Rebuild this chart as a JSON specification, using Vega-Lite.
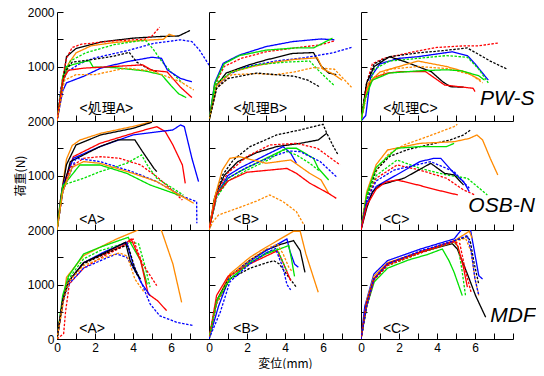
{
"$schema":"https://vega.github.io/schema/vega-lite/v6.json",
"padding":{"left":14,"top":6,"right":0,"bottom":0},
"background":"white",
"columns":3,"spacing":0,"bounds":"flush",
"datasets":{
"curves":[
{"p":1,"s":"1a","c":"k","d":"s","x":[0,0.3,0.5,1.0,2.3,4,5.4,6.4,7],"y":[0,700,1180,1330,1450,1520,1550,1560,1660]},
{"p":1,"s":"1b","c":"r","d":"d","x":[0,0.3,0.5,0.8,1.3,3,4.6,5.0,5.4],"y":[0,800,1150,1350,1410,1470,1500,1560,1720]},
{"p":1,"s":"1c","c":"o","d":"s","x":[0,0.3,0.6,1.0,1.8,3,4.5,5.6,5.9,6.2],"y":[0,700,1050,1250,1380,1440,1480,1500,1590,1560]},
{"p":1,"s":"1d","c":"b","d":"d","x":[0,0.2,0.5,1.2,1.9,3.8,5.1,6.5,7.1,7.5,8.05],"y":[0,600,900,1050,1150,1300,1425,1490,1456,1300,1000]},
{"p":1,"s":"1e","c":"g","d":"d","x":[0,0.3,0.7,1.5,3,4.3,4.7,5.1,5.5,6.0,6.6],"y":[0,700,1100,1250,1400,1470,1470,1300,1100,900,700]},
{"p":1,"s":"1f","c":"g","d":"s","x":[0,0.3,0.5,1.0,1.7,1.9,3,4.6,5.5,6.0,6.4,6.8],"y":[0,800,1000,1050,1110,990,980,920,850,650,500,430]},
{"p":1,"s":"1g","c":"b","d":"s","x":[0,0.3,0.5,1.4,2.3,3.7,5.0,5.5,5.8,6.5,7.1],"y":[0,550,700,820,970,1090,1170,1150,940,780,720]},
{"p":1,"s":"1h","c":"k","d":"d","x":[0,0.4,0.8,1.7,3.0,3.8,4.2,4.8,5.3],"y":[0,900,1080,1120,1190,1260,1080,960,900]},
{"p":1,"s":"1i","c":"r","d":"s","x":[0,0.3,0.6,1.4,3,4.5,5.0,5.8,6.5,7.1],"y":[0,750,930,970,1000,1030,930,900,620,430]},
{"p":1,"s":"1j","c":"o","d":"d","x":[0,0.4,1.0,2.0,3.6,5.0,5.9,6.5,7.2],"y":[0,750,850,850,970,920,800,720,570]},
{"p":2,"s":"2a","c":"b","d":"s","x":[0,0.3,0.75,1.6,3.0,4.4,5.9,6.6],"y":[0,700,1060,1210,1365,1457,1505,1490]},
{"p":2,"s":"2b","c":"r","d":"d","x":[0,0.3,0.8,1.7,3,4.5,5.9,6.6],"y":[0,650,1000,1150,1270,1340,1400,1470]},
{"p":2,"s":"2c","c":"g","d":"s","x":[0,0.3,0.8,1.6,3,4.5,5.5,6.5],"y":[0,680,1050,1200,1300,1340,1340,1520]},
{"p":2,"s":"2d","c":"k","d":"s","x":[0,0.4,0.9,2.1,3.0,4.4,5.5,5.9,6.3,6.7],"y":[0,650,880,1030,1120,1240,1255,1010,880,850]},
{"p":2,"s":"2e","c":"b","d":"d","x":[0,0.4,1,2,3.5,5,6.5,7.5],"y":[0,600,850,1000,1100,1160,1250,1350]},
{"p":2,"s":"2f","c":"o","d":"s","x":[0,0.4,1.2,2.3,3.5,4.5,5.7,6.0,6.5,7.0],"y":[0,650,900,1000,1080,1130,1160,950,870,750]},
{"p":2,"s":"2g","c":"g","d":"d","x":[0,0.4,1.2,2.5,4,5.3,5.7,6.2,6.6],"y":[0,700,900,1030,1080,1100,950,780,650]},
{"p":2,"s":"2h","c":"o","d":"d","x":[0,0.4,1.2,2.5,3.5,4.5,5.5,6.6,7.5],"y":[0,600,850,870,850,900,980,950,620]},
{"p":2,"s":"2i","c":"k","d":"d","x":[0,0.4,1,2.5,3.5,4.5,5.2,5.8],"y":[0,600,780,880,850,820,750,630]},
{"p":3,"s":"3a","c":"r","d":"d","x":[0,0.3,0.6,1.2,2.5,4,5.5,6.2,7.2],"y":[0,700,1050,1150,1250,1350,1380,1380,1430]},
{"p":3,"s":"3b","c":"k","d":"d","x":[0,0.3,0.7,1.5,3,4.3,5.6,6.3,6.8,7.7],"y":[0,700,1050,1180,1250,1290,1340,1200,1100,950]},
{"p":3,"s":"3c","c":"b","d":"s","x":[0,0.25,0.5,1,2,3,4.8,5.6,6,6.7],"y":[0,100,800,1050,1150,1180,1270,1200,1050,750]},
{"p":3,"s":"3d","c":"g","d":"d","x":[0,0.3,0.7,1.5,3,4.5,5.6,6.2,6.7],"y":[0,500,950,1100,1150,1200,1170,950,700]},
{"p":3,"s":"3e","c":"k","d":"s","x":[0,0.3,0.7,1.5,2.3,3.7,4.3,4.7,5.4],"y":[0,700,1000,1180,1090,905,720,630,620]},
{"p":3,"s":"3f","c":"r","d":"s","x":[0,0.3,0.7,1.4,2.1,3.4,4.4,5.9,6.0],"y":[0,600,800,880,905,905,660,600,540]},
{"p":3,"s":"3g","c":"o","d":"s","x":[0,0.4,1,2,3,4.5,5.5,6.3],"y":[0,700,900,1000,1100,1000,900,750]},
{"p":3,"s":"3h","c":"o","d":"d","x":[0,0.4,1.5,3,4.6,5.8,6.4],"y":[0,700,950,1000,960,850,700]},
{"p":3,"s":"3i","c":"g","d":"s","x":[0,0.2,0.6,1.5,3,4.5,5.3,6.2,6.5],"y":[0,400,750,880,920,940,920,830,750]},
{"p":4,"s":"4a","c":"o","d":"s","x":[0,0.2,0.5,0.8,1.2,2.3,4.0,5.0],"y":[0,600,1300,1550,1650,1775,1900,1990]},
{"p":4,"s":"4b","c":"k","d":"s","x":[0,0.2,0.5,1.0,2.3,4.0,5.0],"y":[0,600,1200,1560,1745,1866,1977]},
{"p":4,"s":"4c","c":"r","d":"s","x":[0,0.3,0.86,2.26,4.0,5.25,5.7,6.1,6.6,6.75],"y":[0,800,1346,1590,1775,1897,1805,1560,1193,857]},
{"p":4,"s":"4d","c":"b","d":"s","x":[0,0.3,0.86,2.26,4.0,6.1,6.5,6.7,7.1,7.45],"y":[0,800,1316,1530,1744,1836,1928,1897,1316,887]},
{"p":4,"s":"4e","c":"k","d":"s","x":[0,0.3,0.7,2.26,3.2,4.1,4.5,5.1,5.25],"y":[0,700,1255,1530,1652,1652,1438,1132,1071]},
{"p":4,"s":"4f","c":"r","d":"d","x":[0,0.3,0.7,1.4,2.3,3.3,4.4,5.25,6.0,6.6],"y":[0,700,1150,1316,1346,1316,1193,980,750,550]},
{"p":4,"s":"4g","c":"b","d":"d","x":[0,0.3,1.0,2.26,3.7,4.4,5.25,6.65,7.35,7.36],"y":[0,700,1316,1255,1100,1010,887,612,520,122]},
{"p":4,"s":"4h","c":"g","d":"d","x":[0,0.33,1.4,2.26,3.67,4.45,4.8,5.25,6.65],"y":[0,826,950,1071,1224,1377,1163,950,643]},
{"p":4,"s":"4i","c":"g","d":"s","x":[0,0.3,1.2,2.26,3.67,4.9,6.65],"y":[0,800,1193,1193,1040,826,612]},
{"p":4,"s":"4j","c":"o","d":"s","x":[0,0.3,0.8,1.4,2.26,4.0,5.25,7.2],"y":[0,700,1150,1255,1224,1040,887,490]},
{"p":5,"s":"5a","c":"k","d":"d","x":[0,0.3,0.7,1.28,2.16,3.56,4.8,6.0,6.2,6.55,6.8],"y":[0,600,1000,1285,1530,1744,1836,1940,1775,1530,1377]},
{"p":5,"s":"5b","c":"k","d":"s","x":[0,0.3,0.8,1.5,2.5,3.56,4.8,5.75,6.2],"y":[0,600,1000,1250,1420,1530,1590,1652,1775]},
{"p":5,"s":"5c","c":"r","d":"d","x":[0,0.4,1,2,3.2,4.6,5.7,6.9],"y":[0,700,1050,1350,1560,1590,1500,1193]},
{"p":5,"s":"5d","c":"b","d":"s","x":[0,0.4,1,1.6,3.0,3.9,4.3,4.6],"y":[0,650,1000,1132,1377,1530,1408,1224]},
{"p":5,"s":"5e","c":"g","d":"s","x":[0,0.4,1,1.6,3.0,4.1,4.6,5.5,5.75,6.3],"y":[0,650,950,1071,1316,1500,1500,1316,1132,918]},
{"p":5,"s":"5f","c":"b","d":"d","x":[0,0.4,1,2,3.2,4.2,4.8,5.85,6.7],"y":[0,600,950,1150,1330,1450,1438,1255,979]},
{"p":5,"s":"5g","c":"g","d":"d","x":[0,0.4,1,2,3.2,3.9,4.6,5.3,5.85],"y":[0,600,900,1100,1300,1470,1377,1224,1071]},
{"p":5,"s":"5h","c":"o","d":"s","x":[0,0.3,0.7,1.1,1.6,3.0,4.3,5.3,5.9,6.3],"y":[0,600,1100,1315,1346,1224,1285,1040,918,673]},
{"p":5,"s":"5i","c":"r","d":"s","x":[0,0.4,1,2,3.2,4.1,4.6,5.3,6.3,6.7],"y":[0,650,900,1060,1100,1130,1040,860,670,580]},
{"p":5,"s":"5j","c":"o","d":"d","x":[0,0.2,0.5,1.5,2.5,3.2,3.9,4.6,5.0],"y":[0,150,275,400,530,643,520,337,92]},
{"p":6,"s":"6a","c":"o","d":"d","x":[0,0.2,0.68,1.4,2.26,3.5,4.9,5.07],"y":[0,500,1010,1377,1560,1714,1897,1940]},
{"p":6,"s":"6b","c":"k","d":"d","x":[0,0.3,0.8,1.5,2.5,3.5,4.7,5.4,5.77],"y":[0,600,1100,1350,1480,1560,1652,1744,1836]},
{"p":6,"s":"6c","c":"o","d":"s","x":[0,0.3,0.8,1.4,3.1,4.9,5.7,6.1,6.4,6.8,7.2],"y":[0,700,1200,1469,1590,1620,1680,1744,1652,1316,1010]},
{"p":6,"s":"6d","c":"g","d":"s","x":[0,0.3,0.8,1.9,3.1,4.5,4.9],"y":[0,650,1150,1500,1530,1530,1590]},
{"p":6,"s":"6e","c":"b","d":"s","x":[0,0.3,0.8,1.4,3.1,3.85,4.2,4.9,5.4,5.7],"y":[0,500,800,918,1255,1316,1316,1040,887,704]},
{"p":6,"s":"6f","c":"g","d":"d","x":[0,0.3,0.8,1.9,3.1,4.5,5.6,6.65],"y":[0,600,1000,1285,1132,1010,950,643]},
{"p":6,"s":"6g","c":"r","d":"d","x":[0,0.3,0.8,1.9,3.1,4.5,5.4,6.0],"y":[0,550,950,1193,1100,950,735,643]},
{"p":6,"s":"6h","c":"k","d":"s","x":[0,0.3,0.6,1.0,2.26,3.67,4.4,4.9,5.4],"y":[0,400,700,826,950,1224,1040,1010,826]},
{"p":6,"s":"6i","c":"b","d":"d","x":[0,0.3,0.8,1.74,3.67,4.9,5.7],"y":[0,550,900,1100,1255,1071,765]},
{"p":6,"s":"6j","c":"r","d":"s","x":[0,0.3,0.8,1.3,1.9,3.0,4.0,5.1],"y":[0,450,750,880,918,826,734,643]},
{"p":7,"s":"7a","c":"o","d":"s","x":[0,0.3,0.5,1.4,2.26,3.14,4.2,4.9,5.5,6.1,6.56],"y":[0,600,1132,1530,1683,1836,1990,2150,1990,1377,673]},
{"p":7,"s":"7b","c":"g","d":"s","x":[0,0.3,0.6,1.4,2.26,3.75,3.9,4.4,4.75],"y":[0,800,1150,1560,1683,1866,1744,1438,1000]},
{"p":7,"s":"7c","c":"g","d":"d","x":[0,0.3,0.6,1.4,2.26,3.3,4.0,4.3,4.6,4.9],"y":[0,750,1100,1470,1620,1730,1775,1744,1377,950]},
{"p":7,"s":"7d","c":"r","d":"s","x":[0,0.3,0.6,1.4,2.5,3.5,3.9,4.4,4.8,5.3,5.77],"y":[0,700,1050,1400,1560,1720,1836,1438,826,700,520]},
{"p":7,"s":"7e","c":"r","d":"d","x":[0,0.35,0.45,0.65,1.4,2.5,3.5,4.0,4.5,5.25],"y":[0,100,500,1010,1300,1530,1700,1836,1377,980]},
{"p":7,"s":"7f","c":"b","d":"s","x":[0,0.3,0.6,1.4,2.5,3.3,3.67,4.0,4.4,4.9],"y":[0,700,1050,1400,1600,1720,1775,1377,1050,795]},
{"p":7,"s":"7g","c":"b","d":"d","x":[0,0.3,0.6,1.4,2.5,3.14,3.67,4.4,4.9,5.4,6.3,7.2],"y":[0,650,1000,1300,1470,1560,1500,1071,643,428,306,245]},
{"p":7,"s":"7h","c":"k","d":"s","x":[0,0.3,0.6,1.4,2.5,3.3,3.6,3.85,4.2,4.4],"y":[0,700,1050,1400,1580,1720,1775,1438,1193,1100]},
{"p":7,"s":"7i","c":"k","d":"d","x":[0,0.3,0.6,1.4,2.5,3.5,3.75,4.1,4.3],"y":[0,700,1050,1380,1560,1700,1700,1300,1150]},
{"p":7,"s":"7j","c":"o","d":"d","x":[0,0.3,0.6,1.4,2.5,3.3,3.7,4.1,4.6],"y":[0,650,1050,1350,1500,1580,1520,1100,850]},
{"p":8,"s":"8a","c":"o","d":"s","x":[0,0.4,1.1,2.16,3.0,4.45,4.8,5.1,5.75],"y":[0,700,1193,1500,1683,1977,1977,1560,857]},
{"p":8,"s":"8b","c":"k","d":"s","x":[0,0.4,1.1,2.16,3.0,3.8,4.45,4.8,5.05],"y":[0,700,1150,1450,1630,1740,1805,1622,1224]},
{"p":8,"s":"8c","c":"b","d":"s","x":[0,0.5,1.1,2.16,3.0,4.1,4.25,4.5,4.7],"y":[0,600,1150,1430,1620,1836,1622,1377,1316]},
{"p":8,"s":"8d","c":"g","d":"s","x":[0,0.4,1.1,2.16,3.0,3.7,4.2,4.35,4.5],"y":[0,700,1100,1400,1560,1650,1714,1450,1150]},
{"p":8,"s":"8e","c":"k","d":"d","x":[0,0.4,1.1,2.16,3.4,3.7,4.2,4.6],"y":[0,650,1100,1300,1438,1377,1132,949]},
{"p":8,"s":"8f","c":"r","d":"s","x":[0,0.4,1.0,2.16,3.0,3.6,3.9,4.3],"y":[0,800,1150,1380,1520,1620,1400,1071]},
{"p":8,"s":"8g","c":"o","d":"d","x":[0,0.4,1.1,2.16,3.0,3.6,3.9,4.2,4.35],"y":[0,650,1150,1450,1650,1740,1560,1316,1250]},
{"p":8,"s":"8h","c":"g","d":"d","x":[0,0.4,1.1,2.16,3.0,3.6,3.9,4.1],"y":[0,700,1100,1400,1580,1650,1400,1250]},
{"p":8,"s":"8i","c":"b","d":"d","x":[0,0.6,1.1,2.16,3.0,3.5,3.9,4.1,4.3],"y":[0,500,1050,1380,1580,1660,1300,1000,900]},
{"p":9,"s":"9a","c":"b","d":"s","x":[0,0.2,0.68,1.4,3.14,4.9,5.25,5.5,5.77,6.2,6.4],"y":[0,600,1193,1438,1652,1836,1990,2150,1990,1163,1100]},
{"p":9,"s":"9b","c":"o","d":"s","x":[0,0.3,0.68,1.4,3.14,4.9,5.7,5.85],"y":[0,700,1150,1400,1600,1800,1977,1850]},
{"p":9,"s":"9c","c":"o","d":"d","x":[0,0.3,0.68,1.4,3.14,4.9,5.5,5.8,6.0,6.2],"y":[0,650,1100,1350,1580,1780,1850,1600,1100,800]},
{"p":9,"s":"9d","c":"k","d":"s","x":[0,0.3,0.68,1.4,3.14,4.8,5.07,5.6,6.03,6.56],"y":[0,650,1100,1380,1600,1750,1652,1193,796,400]},
{"p":9,"s":"9e","c":"k","d":"d","x":[0,0.3,0.68,1.4,3.14,4.9,5.6,5.75,5.95,6.2],"y":[0,650,1100,1380,1600,1800,1880,1800,1400,1000]},
{"p":9,"s":"9f","c":"g","d":"s","x":[0,0.3,0.7,1.4,2.5,3.5,4.28,4.63,4.9,5.33],"y":[0,600,1050,1300,1450,1550,1652,1438,1224,796]},
{"p":9,"s":"9g","c":"g","d":"d","x":[0,0.3,0.68,1.4,3.14,4.9,5.1,5.3,5.5],"y":[0,600,1100,1350,1580,1780,1700,1300,800]},
{"p":9,"s":"9h","c":"r","d":"s","x":[0,0.3,0.68,1.4,3.14,4.9,5.1,5.4,5.6],"y":[0,650,1100,1380,1600,1800,1700,1300,950]},
{"p":9,"s":"9i","c":"r","d":"d","x":[0,0.3,0.68,1.4,3.14,4.9,5.2,5.5,5.8],"y":[0,600,1080,1350,1580,1780,1750,1250,850]},
{"p":9,"s":"9j","c":"b","d":"d","x":[0,0.3,0.68,1.4,3.14,4.9,5.6,5.8,6.0,6.2],"y":[0,600,1100,1380,1620,1800,1900,1600,1100,800]}
],
"tags":[
{"p":1,"t":"<処理A>","x":2.6,"y":220},{"p":2,"t":"<処理B>","x":2.7,"y":220},{"p":3,"t":"<処理C>","x":2.6,"y":220},
{"p":4,"t":"<A>","x":1.85,"y":185},{"p":5,"t":"<B>","x":1.95,"y":185},{"p":6,"t":"<C>","x":1.85,"y":185},
{"p":7,"t":"<A>","x":1.85,"y":185},{"p":8,"t":"<B>","x":1.95,"y":185},{"p":9,"t":"<C>","x":1.85,"y":185}
],
"names":[
{"p":3,"t":"PW-S","x":7.7,"y":400},{"p":6,"t":"OSB-N","x":7.4,"y":440},{"p":9,"t":"MDF","x":8.0,"y":420}
]
},
"concat":[
{"width":152,"height":109,
 "encoding":{"x":{"field":"x","type":"quantitative","scale":{"domain":[0,8],"nice":false},"axis":{"values":[0,1,2,3,4,5,6,7,8],"labels":false,"title":null}},
   "y":{"field":"y","type":"quantitative","scale":{"domain":[0,2000],"nice":false},"axis":{"values":[0,500,1000,1500,2000],"format":"d","labelExpr":"datum.value == 1000 || datum.value == 2000 ? datum.label : ''","title":null}}},
 "layer":[
 {"data":{"name":"curves"},"transform":[{"filter":"datum.p==1"},{"flatten":["x","y"]}],"mark":{"type":"line","clip":true,"strokeWidth":1.3},
  "encoding":{"color":{"field":"c","type":"nominal","scale":{"domain":["k","r","b","g","o"],"range":["#000000","#ff0000","#0000ff","#00e000","#ff8a00"]},"legend":null},
   "strokeDash":{"field":"d","type":"nominal","scale":{"domain":["s","d"],"range":[[1,0],[2.5,1.5]]},"legend":null},
   "detail":{"field":"s"},"order":{"value":null}}},
 {"data":{"name":"tags"},"transform":[{"filter":"datum.p==1"}],"mark":{"type":"text","font":"Liberation Sans, Noto Sans CJK JP","fontSize":14,"align":"center","baseline":"middle"},
  "encoding":{"text":{"field":"t"}}}
]},
{"width":152,"height":109,
 "encoding":{"x":{"field":"x","type":"quantitative","scale":{"domain":[0,8],"nice":false},"axis":{"values":[0,1,2,3,4,5,6,7,8],"labels":false,"title":null}},
   "y":{"field":"y","type":"quantitative","scale":{"domain":[0,2000],"nice":false},"axis":{"values":[0,500,1000,1500,2000],"labels":false,"title":null}}},
 "layer":[
 {"data":{"name":"curves"},"transform":[{"filter":"datum.p==2"},{"flatten":["x","y"]}],"mark":{"type":"line","clip":true,"strokeWidth":1.3},
  "encoding":{"color":{"field":"c","type":"nominal","scale":{"domain":["k","r","b","g","o"],"range":["#000000","#ff0000","#0000ff","#00e000","#ff8a00"]},"legend":null},
   "strokeDash":{"field":"d","type":"nominal","scale":{"domain":["s","d"],"range":[[1,0],[2.5,1.5]]},"legend":null},
   "detail":{"field":"s"},"order":{"value":null}}},
 {"data":{"name":"tags"},"transform":[{"filter":"datum.p==2"}],"mark":{"type":"text","font":"Liberation Sans, Noto Sans CJK JP","fontSize":14,"align":"center","baseline":"middle"},
  "encoding":{"text":{"field":"t"}}}
]},
{"width":152,"height":109,
 "encoding":{"x":{"field":"x","type":"quantitative","scale":{"domain":[0,8],"nice":false},"axis":{"values":[0,1,2,3,4,5,6,7,8],"labels":false,"title":null}},
   "y":{"field":"y","type":"quantitative","scale":{"domain":[0,2000],"nice":false},"axis":{"values":[0,500,1000,1500,2000],"labels":false,"title":null}}},
 "layer":[
 {"data":{"name":"curves"},"transform":[{"filter":"datum.p==3"},{"flatten":["x","y"]}],"mark":{"type":"line","clip":true,"strokeWidth":1.3},
  "encoding":{"color":{"field":"c","type":"nominal","scale":{"domain":["k","r","b","g","o"],"range":["#000000","#ff0000","#0000ff","#00e000","#ff8a00"]},"legend":null},
   "strokeDash":{"field":"d","type":"nominal","scale":{"domain":["s","d"],"range":[[1,0],[2.5,1.5]]},"legend":null},
   "detail":{"field":"s"},"order":{"value":null}}},
 {"data":{"name":"tags"},"transform":[{"filter":"datum.p==3"}],"mark":{"type":"text","font":"Liberation Sans, Noto Sans CJK JP","fontSize":14,"align":"center","baseline":"middle"},
  "encoding":{"text":{"field":"t"}}},
 {"data":{"name":"names"},"transform":[{"filter":"datum.p==3"}],"mark":{"type":"text","font":"Liberation Sans","fontSize":21,"fontStyle":"italic","align":"center","baseline":"middle"},
  "encoding":{"text":{"field":"t"}}}
]},
{"width":152,"height":109,
 "encoding":{"x":{"field":"x","type":"quantitative","scale":{"domain":[0,8],"nice":false},"axis":{"values":[0,1,2,3,4,5,6,7,8],"labels":false,"title":null}},
   "y":{"field":"y","type":"quantitative","scale":{"domain":[0,2000],"nice":false},"axis":{"values":[0,500,1000,1500,2000],"format":"d","labelExpr":"datum.value == 1000 || datum.value == 2000 ? datum.label : ''","title":"荷重(N)","titlePadding":0}}},
 "layer":[
 {"data":{"name":"curves"},"transform":[{"filter":"datum.p==4"},{"flatten":["x","y"]}],"mark":{"type":"line","clip":true,"strokeWidth":1.3},
  "encoding":{"color":{"field":"c","type":"nominal","scale":{"domain":["k","r","b","g","o"],"range":["#000000","#ff0000","#0000ff","#00e000","#ff8a00"]},"legend":null},
   "strokeDash":{"field":"d","type":"nominal","scale":{"domain":["s","d"],"range":[[1,0],[2.5,1.5]]},"legend":null},
   "detail":{"field":"s"},"order":{"value":null}}},
 {"data":{"name":"tags"},"transform":[{"filter":"datum.p==4"}],"mark":{"type":"text","font":"Liberation Sans, Noto Sans CJK JP","fontSize":14,"align":"center","baseline":"middle"},
  "encoding":{"text":{"field":"t"}}}
]},
{"width":152,"height":109,
 "encoding":{"x":{"field":"x","type":"quantitative","scale":{"domain":[0,8],"nice":false},"axis":{"values":[0,1,2,3,4,5,6,7,8],"labels":false,"title":null}},
   "y":{"field":"y","type":"quantitative","scale":{"domain":[0,2000],"nice":false},"axis":{"values":[0,500,1000,1500,2000],"labels":false,"title":null}}},
 "layer":[
 {"data":{"name":"curves"},"transform":[{"filter":"datum.p==5"},{"flatten":["x","y"]}],"mark":{"type":"line","clip":true,"strokeWidth":1.3},
  "encoding":{"color":{"field":"c","type":"nominal","scale":{"domain":["k","r","b","g","o"],"range":["#000000","#ff0000","#0000ff","#00e000","#ff8a00"]},"legend":null},
   "strokeDash":{"field":"d","type":"nominal","scale":{"domain":["s","d"],"range":[[1,0],[2.5,1.5]]},"legend":null},
   "detail":{"field":"s"},"order":{"value":null}}},
 {"data":{"name":"tags"},"transform":[{"filter":"datum.p==5"}],"mark":{"type":"text","font":"Liberation Sans, Noto Sans CJK JP","fontSize":14,"align":"center","baseline":"middle"},
  "encoding":{"text":{"field":"t"}}}
]},
{"width":152,"height":109,
 "encoding":{"x":{"field":"x","type":"quantitative","scale":{"domain":[0,8],"nice":false},"axis":{"values":[0,1,2,3,4,5,6,7,8],"labels":false,"title":null}},
   "y":{"field":"y","type":"quantitative","scale":{"domain":[0,2000],"nice":false},"axis":{"values":[0,500,1000,1500,2000],"labels":false,"title":null}}},
 "layer":[
 {"data":{"name":"curves"},"transform":[{"filter":"datum.p==6"},{"flatten":["x","y"]}],"mark":{"type":"line","clip":true,"strokeWidth":1.3},
  "encoding":{"color":{"field":"c","type":"nominal","scale":{"domain":["k","r","b","g","o"],"range":["#000000","#ff0000","#0000ff","#00e000","#ff8a00"]},"legend":null},
   "strokeDash":{"field":"d","type":"nominal","scale":{"domain":["s","d"],"range":[[1,0],[2.5,1.5]]},"legend":null},
   "detail":{"field":"s"},"order":{"value":null}}},
 {"data":{"name":"tags"},"transform":[{"filter":"datum.p==6"}],"mark":{"type":"text","font":"Liberation Sans, Noto Sans CJK JP","fontSize":14,"align":"center","baseline":"middle"},
  "encoding":{"text":{"field":"t"}}},
 {"data":{"name":"names"},"transform":[{"filter":"datum.p==6"}],"mark":{"type":"text","font":"Liberation Sans","fontSize":21,"fontStyle":"italic","align":"center","baseline":"middle"},
  "encoding":{"text":{"field":"t"}}}
]},
{"width":152,"height":109,
 "encoding":{"x":{"field":"x","type":"quantitative","scale":{"domain":[0,8],"nice":false},"axis":{"values":[0,1,2,3,4,5,6,7,8],"labelExpr":"datum.value % 2 == 0 && datum.value < 8 ? datum.label : ''","title":null}},
   "y":{"field":"y","type":"quantitative","scale":{"domain":[0,2000],"nice":false},"axis":{"values":[0,500,1000,1500,2000],"format":"d","labelExpr":"datum.value % 1000 == 0 ? datum.label : ''","title":null}}},
 "layer":[
 {"data":{"name":"curves"},"transform":[{"filter":"datum.p==7"},{"flatten":["x","y"]}],"mark":{"type":"line","clip":true,"strokeWidth":1.3},
  "encoding":{"color":{"field":"c","type":"nominal","scale":{"domain":["k","r","b","g","o"],"range":["#000000","#ff0000","#0000ff","#00e000","#ff8a00"]},"legend":null},
   "strokeDash":{"field":"d","type":"nominal","scale":{"domain":["s","d"],"range":[[1,0],[2.5,1.5]]},"legend":null},
   "detail":{"field":"s"},"order":{"value":null}}},
 {"data":{"name":"tags"},"transform":[{"filter":"datum.p==7"}],"mark":{"type":"text","font":"Liberation Sans, Noto Sans CJK JP","fontSize":14,"align":"center","baseline":"middle"},
  "encoding":{"text":{"field":"t"}}}
]},
{"width":152,"height":109,
 "encoding":{"x":{"field":"x","type":"quantitative","scale":{"domain":[0,8],"nice":false},"axis":{"values":[0,1,2,3,4,5,6,7,8],"labelExpr":"datum.value % 2 == 0 && datum.value < 8 ? datum.label : ''","title":"変位(mm)","titlePadding":5}},
   "y":{"field":"y","type":"quantitative","scale":{"domain":[0,2000],"nice":false},"axis":{"values":[0,500,1000,1500,2000],"labels":false,"title":null}}},
 "layer":[
 {"data":{"name":"curves"},"transform":[{"filter":"datum.p==8"},{"flatten":["x","y"]}],"mark":{"type":"line","clip":true,"strokeWidth":1.3},
  "encoding":{"color":{"field":"c","type":"nominal","scale":{"domain":["k","r","b","g","o"],"range":["#000000","#ff0000","#0000ff","#00e000","#ff8a00"]},"legend":null},
   "strokeDash":{"field":"d","type":"nominal","scale":{"domain":["s","d"],"range":[[1,0],[2.5,1.5]]},"legend":null},
   "detail":{"field":"s"},"order":{"value":null}}},
 {"data":{"name":"tags"},"transform":[{"filter":"datum.p==8"}],"mark":{"type":"text","font":"Liberation Sans, Noto Sans CJK JP","fontSize":14,"align":"center","baseline":"middle"},
  "encoding":{"text":{"field":"t"}}}
]},
{"width":152,"height":109,
 "encoding":{"x":{"field":"x","type":"quantitative","scale":{"domain":[0,8],"nice":false},"axis":{"values":[0,1,2,3,4,5,6,7,8],"labelExpr":"datum.value % 2 == 0 && datum.value < 8 ? datum.label : ''","title":null}},
   "y":{"field":"y","type":"quantitative","scale":{"domain":[0,2000],"nice":false},"axis":{"values":[0,500,1000,1500,2000],"labels":false,"title":null}}},
 "layer":[
 {"data":{"name":"curves"},"transform":[{"filter":"datum.p==9"},{"flatten":["x","y"]}],"mark":{"type":"line","clip":true,"strokeWidth":1.3},
  "encoding":{"color":{"field":"c","type":"nominal","scale":{"domain":["k","r","b","g","o"],"range":["#000000","#ff0000","#0000ff","#00e000","#ff8a00"]},"legend":null},
   "strokeDash":{"field":"d","type":"nominal","scale":{"domain":["s","d"],"range":[[1,0],[2.5,1.5]]},"legend":null},
   "detail":{"field":"s"},"order":{"value":null}}},
 {"data":{"name":"tags"},"transform":[{"filter":"datum.p==9"}],"mark":{"type":"text","font":"Liberation Sans, Noto Sans CJK JP","fontSize":14,"align":"center","baseline":"middle"},
  "encoding":{"text":{"field":"t"}}},
 {"data":{"name":"names"},"transform":[{"filter":"datum.p==9"}],"mark":{"type":"text","font":"Liberation Sans","fontSize":21,"fontStyle":"italic","align":"center","baseline":"middle"},
  "encoding":{"text":{"field":"t"}}}
]}
],
"config":{
 "view":{"stroke":null},
 "axis":{"grid":false,"domainColor":"#000000","domainWidth":1,"tickColor":"#000000","tickWidth":1,"tickSize":-6,"labelPadding":9,"labelFlush":false,"labelOverlap":false,"labelFont":"Liberation Sans","labelFontSize":12,"labelColor":"#000000","titleFont":"Noto Sans CJK JP","titleFontSize":12,"titleFontWeight":"normal","titleColor":"#000000","titlePadding":2}
}
}
